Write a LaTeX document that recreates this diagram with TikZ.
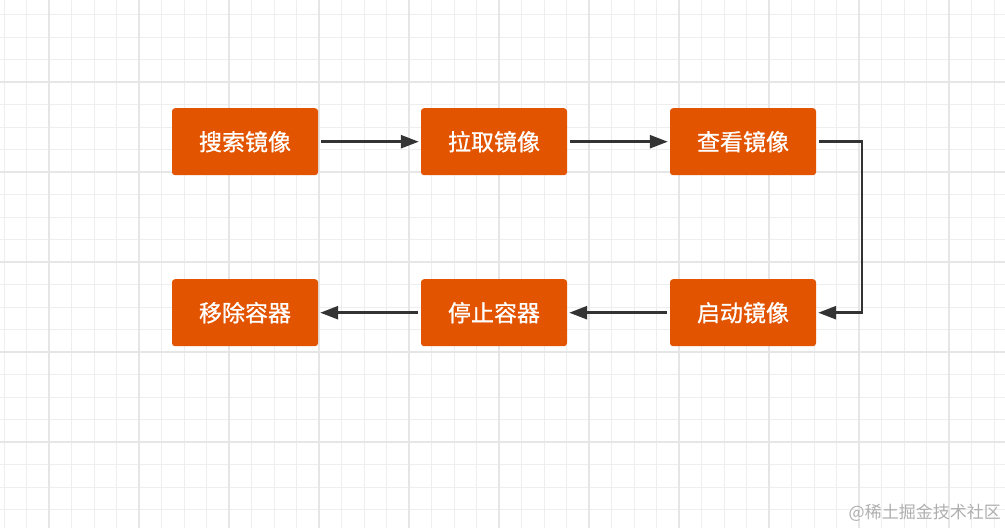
\documentclass[tikz,border=0pt]{standalone}
\usepackage{fontspec}
\newfontfamily\cjk{Noto Sans CJK SC}
\newfontfamily\cjkbox[FakeBold=0.8]{Noto Sans CJK SC}
\usetikzlibrary{arrows.meta}
\definecolor{boxorange}{RGB}{226,84,0}
\definecolor{gridminor}{RGB}{238,238,238}
\definecolor{gridmajor}{RGB}{230,230,230}
\definecolor{linedark}{RGB}{51,51,51}
\definecolor{wmgray}{RGB}{175,175,175}
\tikzset{
  stepbox/.style={fill=boxorange, draw=none, rounded corners=3pt,
    minimum width=146pt, minimum height=67pt, inner sep=0pt,
    text=white, font=\cjkbox\fontsize{23}{23}\selectfont},
  flow/.style={draw=linedark, line width=2.6pt,
    -{Triangle[length=18pt,width=13pt]}, shorten <=3pt, shorten >=2pt},
}
\begin{document}
\begin{tikzpicture}[x=1pt,y=-1pt]
\useasboundingbox (0,0) rectangle (1005,528);
\fill[white] (0,0) rectangle (1005,528);
% minor grid
\foreach \k in {0,...,44} {
  \draw[gridminor, line width=1pt] ({4+22.5*\k},0) -- ({4+22.5*\k},528);
}
\foreach \k in {0,...,23} {
  \draw[gridminor, line width=1pt] (0,{14.5+22.5*\k}) -- (1005,{14.5+22.5*\k});
}
% major grid
\foreach \k in {0,...,10} {
  \draw[gridmajor, line width=1.4pt] ({49+90*\k},0) -- ({49+90*\k},528);
}
\foreach \k in {0,...,5} {
  \draw[gridmajor, line width=1.4pt] (0,{82+90*\k}) -- (1005,{82+90*\k});
}
% boxes
\node[stepbox] (a) at (245,141.7) {搜索镜像};
\node[stepbox] (b) at (494,141.7) {拉取镜像};
\node[stepbox] (c) at (743,141.7) {查看镜像};
\node[stepbox] (d) at (743,312.7) {启动镜像};
\node[stepbox] (e) at (494,312.7) {停止容器};
\node[stepbox] (f) at (245,312.7) {移除容器};
% connectors
\draw[flow] (a) -- (b);
\draw[flow] (b) -- (c);
\coordinate (turn) at (862,141.7);
\draw[flow] (c.east) -- (turn) |- (d.east);
\draw[flow] (d) -- (e);
\draw[flow] (e) -- (f);
% watermark
\node[anchor=east, text=wmgray, font=\cjk\fontsize{17}{17}\selectfont, inner sep=0pt] (wm) at (1001,512.5) {@稀土掘金技术社区};
\end{tikzpicture}
\end{document}
